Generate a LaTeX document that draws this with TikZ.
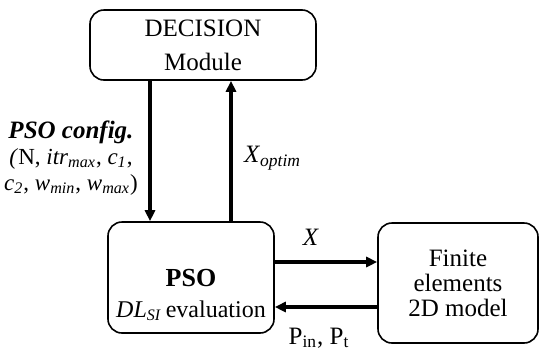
\documentclass[tikz,border=0pt]{standalone}
\usepackage{fontspec}
\setmainfont{Liberation Serif}
\usetikzlibrary{arrows.meta}

\begin{document}
\begin{tikzpicture}[x=0.5pt, y=-0.5pt, >={Triangle[length=5.5pt,width=5pt]},
	blocco/.style={draw, rounded corners=7pt, line width=0.8pt, align=center, inner sep=0pt},
	freccia/.style={->, line width=1.6pt},
	testo/.style={font=\fontsize{12.5}{12.5}\selectfont, align=center},
	etichetta/.style={font=\fontsize{11.5}{13}\selectfont, align=center}]

	\useasboundingbox (0,0) rectangle (539,349);

	% blocchi
	\node[blocco, testo, minimum width=113pt, minimum height=35pt] (dec) at (203,45) {DECISION\\[4.5pt]Module};
	\node[blocco, minimum width=83pt, minimum height=55.5pt] (pso) at (191,277.5) {};
	\node[testo, font=\fontsize{12}{15.5}\selectfont] (psot) at (191,295) {\textbf{\fontsize{13}{15.5}\selectfont PSO}\\\textit{DL}\textsubscript{\textit{SI}}\,evaluation};
	\node[blocco, testo, minimum width=80pt, minimum height=60pt] (fem) at (458,283) {Finite\\elements\\2D model};

	% punti di passaggio
	\coordinate (giu) at (150,0);
	\coordinate (su) at (231,0);
	\coordinate (andata) at (0,262);
	\coordinate (ritorno) at (0,307);

	% frecce
	\draw[freccia] (dec.south -| giu) -- (pso.north -| giu);
	\draw[freccia] (pso.north -| su) -- (dec.south -| su);
	\draw[freccia] (pso.east |- andata) -- (fem.west |- andata);
	\draw[freccia] (fem.west |- ritorno) -- (pso.east |- ritorno);

	% etichette
	\node[etichetta] (cfg) at (71,158) {{\fontsize{12.5}{13}\selectfont\textbf{\textit{PSO config.}}}\\
		\textit{(}N, \textit{itr}\textsubscript{\textit{max}}, \textit{c}\textsubscript{\textit{1}},\\
		\textit{c}\textsubscript{\textit{2}}, \textit{w}\textsubscript{\textit{min}}, \textit{w}\textsubscript{\textit{max}})};
	\node[etichetta, anchor=west, font=\fontsize{12.5}{13}\selectfont] (xopt) at (237,158) {\textit{X}\textsubscript{\textit{optim}}};
	\node[etichetta, font=\fontsize{12.5}{13}\selectfont] (xlab) at (311,237) {\textit{X}};
	\node[etichetta, font=\fontsize{12.5}{13}\selectfont] (plab) at (319,338) {P\textsubscript{in}, P\textsubscript{t}};
\end{tikzpicture}
\end{document}
